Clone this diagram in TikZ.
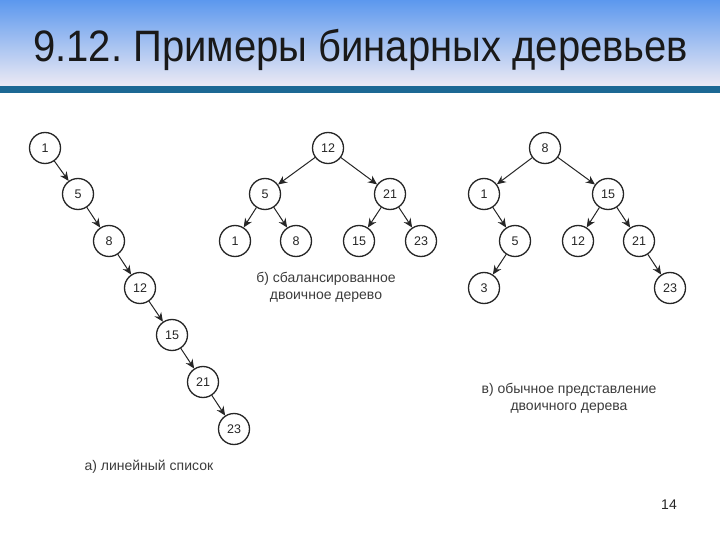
\documentclass[tikz,border=0pt]{standalone}
\usepackage{fontspec}
\usepackage{graphicx}
\setmainfont{Liberation Sans}
\frenchspacing
\usetikzlibrary{arrows.meta}
\definecolor{topblue}{RGB}{92,152,238}
\definecolor{midblue}{RGB}{160,192,238}
\definecolor{botlight}{RGB}{236,234,244}
\definecolor{band}{RGB}{28,104,148}
\definecolor{captxt}{RGB}{60,60,60}
\tikzset{
  tn/.style={circle, draw=black!85, line width=1.3pt, minimum size=31pt, inner sep=0pt, font=\fontsize{12.5}{14}\selectfont, text=black!85},
  edge/.style={draw=black!85, line width=1pt, -{Stealth[length=9pt,width=8pt]}},
  capt/.style={font=\fontsize{14}{17}\selectfont, text=captxt, align=center}
}
\begin{document}
\begin{tikzpicture}[x=1pt,y=-1pt]
\useasboundingbox (0,0) rectangle (720,540);
\fill[white] (0,0) rectangle (720,540);
\shade[top color=topblue, middle color=midblue, bottom color=botlight] (0,0) rectangle (720,86);
\fill[band] (0,86) rectangle (720,93);
\node[anchor=base west, font=\fontsize{44}{48}\selectfont, text=black!90, inner sep=0pt] (title) at (33,62) {\resizebox{655pt}{\height}{9.12. Примеры бинарных деревьев}};

% a) linear list
\node[tn] (a1) at (45,148) {1};
\node[tn] (a5) at (78,194) {5};
\node[tn] (a8) at (109,241) {8};
\node[tn] (a12) at (140,288) {12};
\node[tn] (a15) at (172,335) {15};
\node[tn] (a21) at (203,382) {21};
\node[tn] (a23) at (234,429) {23};
\draw[edge] (a1) -- (a5);
\draw[edge] (a5) -- (a8);
\draw[edge] (a8) -- (a12);
\draw[edge] (a12) -- (a15);
\draw[edge] (a15) -- (a21);
\draw[edge] (a21) -- (a23);
\node[capt, anchor=west] (capa) at (81,467) {а) линейный список};

% b) balanced
\node[tn] (b12) at (328,148) {12};
\node[tn] (b5) at (265,194) {5};
\node[tn] (b21) at (390,194) {21};
\node[tn] (b1) at (235,241) {1};
\node[tn] (b8) at (296,241) {8};
\node[tn] (b15) at (359,241) {15};
\node[tn] (b23) at (421,241) {23};
\draw[edge] (b12) -- (b5);
\draw[edge] (b12) -- (b21);
\draw[edge] (b5) -- (b1);
\draw[edge] (b5) -- (b8);
\draw[edge] (b21) -- (b15);
\draw[edge] (b21) -- (b23);
\node[capt] (capb) at (326,287) {б) сбалансированное\\двоичное дерево};

% c) ordinary
\node[tn] (c8) at (545,148) {8};
\node[tn] (c1) at (484,194) {1};
\node[tn] (c15) at (608,194) {15};
\node[tn] (c5) at (515,241) {5};
\node[tn] (c12) at (578,241) {12};
\node[tn] (c21) at (639,241) {21};
\node[tn] (c3) at (484,288) {3};
\node[tn] (c23) at (670,288) {23};
\draw[edge] (c8) -- (c1);
\draw[edge] (c8) -- (c15);
\draw[edge] (c1) -- (c5);
\draw[edge] (c5) -- (c3);
\draw[edge] (c15) -- (c12);
\draw[edge] (c15) -- (c21);
\draw[edge] (c21) -- (c23);
\node[capt] (capc) at (569,398) {в) обычное представление\\двоичного дерева};

\node[font=\fontsize{14}{16}\selectfont, text=black!85] (pg) at (669,505) {14};
\end{tikzpicture}
\end{document}
